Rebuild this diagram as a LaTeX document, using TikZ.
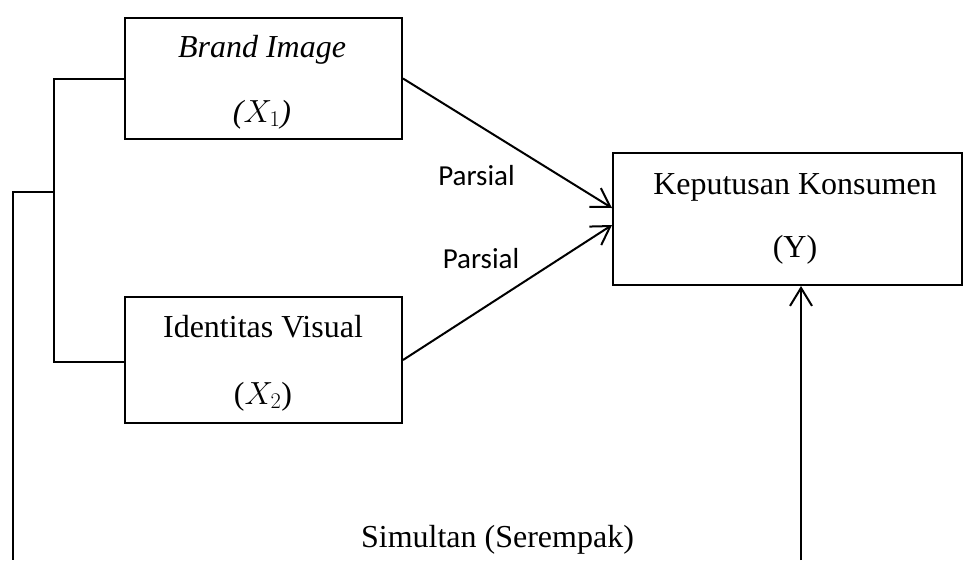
\RequirePackage{fix-cm}
\documentclass[tikz,border=0pt]{standalone}
\usepackage{fontspec}
\setmainfont{Liberation Serif}
\newfontfamily\labelfont{Carlito}
\usetikzlibrary{arrows.meta}
\begin{document}
\begin{tikzpicture}[x=1pt,y=-1pt,
  every node/.style={inner sep=0pt},
  varbox/.style={draw,line width=2pt},
  vartext/.style={anchor=base,font=\fontsize{32}{38}\selectfont},
  link/.style={line width=2pt},
  arr/.style={line width=2pt,-{Straight Barb[length=18pt,width=22pt,line width=2pt]}},
  tag/.style={anchor=base,font=\labelfont\fontsize{29}{34}\selectfont},
  caption/.style={anchor=base,font=\fontsize{32}{38}\selectfont}]
\useasboundingbox (0,0) rectangle (965,560);

% variable boxes
\node[varbox,minimum width=277pt,minimum height=121pt] (X1) at (263.5,78.5) {};
\node[varbox,minimum width=277pt,minimum height=126pt] (X2) at (263.5,360) {};
\node[varbox,minimum width=349pt,minimum height=132pt] (Y) at (787.5,219) {};

% box captions
\node[vartext] (X1a) at (262,57)  {\textit{Brand Image}};
\node[vartext] (X1b) at (262,122) {{\itshape (}$X_1${\itshape )}};
\node[vartext] (X2a) at (263,337) {Identitas Visual};
\node[vartext] (X2b) at (263,404) {($X_2$)};
\node[vartext] (Ya)  at (795,194) {Keputusan Konsumen};
\node[vartext] (Yb)  at (795,257) {(Y)};

% bracket joining both independent variables
\coordinate (bt) at (54,78.5);
\coordinate (bb) at (54,362);
\coordinate (bm) at (54,192);
\coordinate (lm) at (13,192);
\coordinate (lb) at (13,560);
\coordinate (rb) at (801,560);
\draw[link] (X1.west) -- (bt) -- (bb) -- (X2.west |- bb);
\draw[link] (bm) -- (lm) -- (lb);

% partial effects
\draw[arr] (X1.east) -- ([yshift=11pt]Y.west);
\draw[arr] (X2.east) -- ([yshift=-6pt]Y.west);
\node[tag] (p1) at (476.5,185) {Parsial};
\node[tag] (p2) at (481,268) {Parsial};

% simultaneous effect
\draw[arr] (rb) -- (rb |- Y.south);
\node[caption] (sim) at (497.5,547) {Simultan (Serempak)};
\end{tikzpicture}
\end{document}
